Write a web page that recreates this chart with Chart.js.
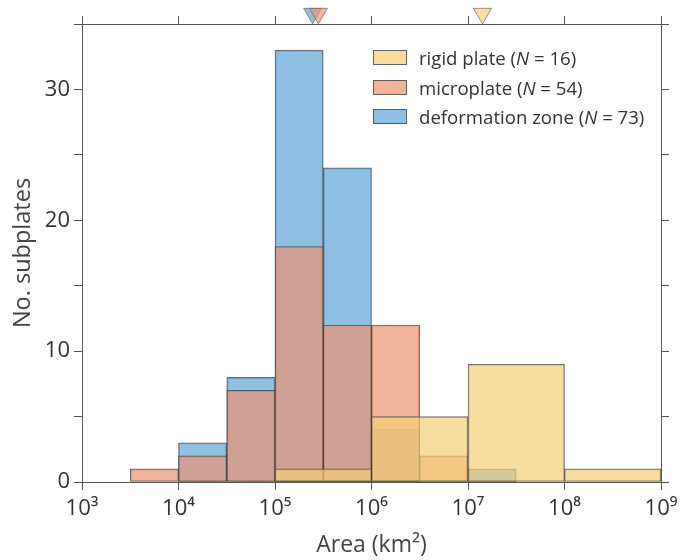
<!DOCTYPE html>
<html>
<head>
<meta charset="utf-8">
<script src="https://cdn.jsdelivr.net/npm/chart.js@4.4.1/dist/chart.umd.min.js"></script>
<style>
    html, body { margin: 0; padding: 0; background: #fff; }
    #wrap { position: relative; width: 684px; height: 560px; }
    #legend {
        position: absolute; left: 373px; top: 43px;
        font-family: 'Open Sans', sans-serif; font-size: 18.6px; color: #333;
    }
    .row { display: flex; align-items: center; height: 29.5px; white-space: nowrap; }
    .swatch {
        width: 34px; height: 15px; box-sizing: border-box;
        border: 1px solid rgba(70, 70, 70, 0.8); margin-right: 12px;
    }
</style>
</head>
<body>
<div id="wrap">
    <canvas id="chart" width="684" height="560"></canvas>
    <div id="legend"></div>
</div>
<script>
// bins are in log10(km2)
const fineBinStart = [3.5, 4.0, 4.5, 5.0, 5.5, 6.0, 6.5, 7.0];
const fineBinWidth = 0.5;
const microplateCounts = [1, 2, 7, 18, 12, 12, 2, 0];
const deformationCounts = [0, 3, 8, 33, 24, 4, 0, 1];

const coarseBinStart = [5, 6, 7, 8];
const coarseBinWidth = 1;
const rigidCounts = [1, 5, 9, 1];

const seriesNames = ['rigid plate', 'microplate', 'deformation zone'];
const seriesN = [16, 54, 73];
const seriesColors = ['rgba(244, 206, 119, 0.7)', 'rgba(234, 148, 114, 0.7)', 'rgba(95, 165, 215, 0.7)'];
const medianLog = [7.15, 5.45, 5.39];

const xTickExponents = [3, 4, 5, 6, 7, 8, 9];
const superscripts = { 3: '\u00b3', 4: '\u2074', 5: '\u2075', 6: '\u2076', 7: '\u2077', 8: '\u2078', 9: '\u2079' };
const yMax = 35;
const markerLevel = 35.8;

const edgeColor = 'rgba(60, 60, 60, 0.75)';
const axisColor = '#555';

Chart.defaults.font.family = "'Open Sans', sans-serif";
Chart.defaults.color = '#333';

function toBars(starts, width, counts) {
    return starts.map((s, i) => ({ x: s + width / 2, y: counts[i] > 0 ? counts[i] : null }));
}

function buildLegend() {
    const legend = document.getElementById('legend');
    seriesNames.forEach((name, i) => {
        const row = document.createElement('div');
        row.className = 'row';
        row.innerHTML = `<span class="swatch" style="background:${seriesColors[i]}"></span>` +
            `<span>${name} (<i>N</i> = ${seriesN[i]})</span>`;
        legend.appendChild(row);
    });
}

const gridStyle = {
    drawOnChartArea: false,
    drawTicks: true,
    tickLength: 8,
    offset: false,
    color: axisColor,
    lineWidth: 1
};
const borderStyle = { display: true, color: axisColor, width: 1 };

// markers ordered so the microplate triangle sits over the deformation one
const markerOrder = [2, 1, 0];

new Chart(document.getElementById('chart'), {
    type: 'bar',
    data: {
        datasets: [
            {
                label: seriesNames[0],
                data: toBars(coarseBinStart, coarseBinWidth, rigidCounts),
                xAxisID: 'xTop',
                backgroundColor: seriesColors[0],
                borderColor: edgeColor,
                borderWidth: 1,
                borderSkipped: false
            },
            {
                label: seriesNames[1],
                data: toBars(fineBinStart, fineBinWidth, microplateCounts),
                xAxisID: 'x',
                backgroundColor: seriesColors[1],
                borderColor: edgeColor,
                borderWidth: 1,
                borderSkipped: false
            },
            {
                label: seriesNames[2],
                data: toBars(fineBinStart, fineBinWidth, deformationCounts),
                xAxisID: 'x',
                backgroundColor: seriesColors[2],
                borderColor: edgeColor,
                borderWidth: 1,
                borderSkipped: false
            },
            {
                type: 'scatter',
                label: 'medians',
                data: markerOrder.map(i => ({ x: medianLog[i], y: markerLevel })),
                xAxisID: 'x',
                yAxisID: 'y',
                pointStyle: 'triangle',
                rotation: 180,
                radius: 10.4,
                backgroundColor: markerOrder.map(i => seriesColors[i]),
                borderColor: 'rgba(90, 90, 90, 0.6)',
                borderWidth: 1,
                clip: false
            }
        ]
    },
    options: {
        responsive: false,
        animation: false,
        layout: { padding: 0, autoPadding: false },
        grouped: false,
        barPercentage: 1,
        categoryPercentage: 1,
        plugins: {
            legend: { display: false },
            tooltip: { enabled: false }
        },
        scales: {
            x: {
                type: 'linear',
                position: 'bottom',
                min: 3,
                max: 9,
                offset: false,
                afterBuildTicks: (axis) => { axis.ticks = xTickExponents.map(v => ({ value: v })); },
                ticks: {
                    padding: 6,
                    font: { size: 22 },
                    color: '#333',
                    callback: (v) => '10' + (superscripts[v] || '')
                },
                grid: gridStyle,
                border: borderStyle,
                title: {
                    display: true,
                    text: 'Area (km\u00b2)',
                    font: { size: 23 },
                    color: '#444',
                    padding: { top: 0, bottom: 1 }
                },
                afterFit: (axis) => { axis.height = 78; }
            },
            xTop: {
                type: 'linear',
                position: 'top',
                min: 3,
                max: 9,
                offset: false,
                afterBuildTicks: (axis) => { axis.ticks = xTickExponents.map(v => ({ value: v })); },
                ticks: { display: false },
                grid: gridStyle,
                border: borderStyle,
                afterFit: (axis) => { axis.height = 24; }
            },
            y: {
                type: 'linear',
                position: 'left',
                min: 0,
                max: yMax,
                ticks: {
                    stepSize: 5,
                    padding: 4,
                    font: { size: 22 },
                    color: '#333',
                    callback: (v) => (v % 10 === 0 && v < yMax ? String(v) : '')
                },
                grid: gridStyle,
                border: borderStyle,
                title: {
                    display: true,
                    text: 'No. subplates',
                    font: { size: 23.5 },
                    color: '#444',
                    padding: { top: 9, bottom: 0 }
                },
                afterFit: (axis) => { axis.width = 82; }
            },
            yRight: {
                type: 'linear',
                position: 'right',
                min: 0,
                max: yMax,
                ticks: { stepSize: 5, display: false },
                grid: gridStyle,
                border: borderStyle,
                afterFit: (axis) => { axis.width = 23; }
            }
        }
    }
});

buildLegend();
</script>
</body>
</html>
